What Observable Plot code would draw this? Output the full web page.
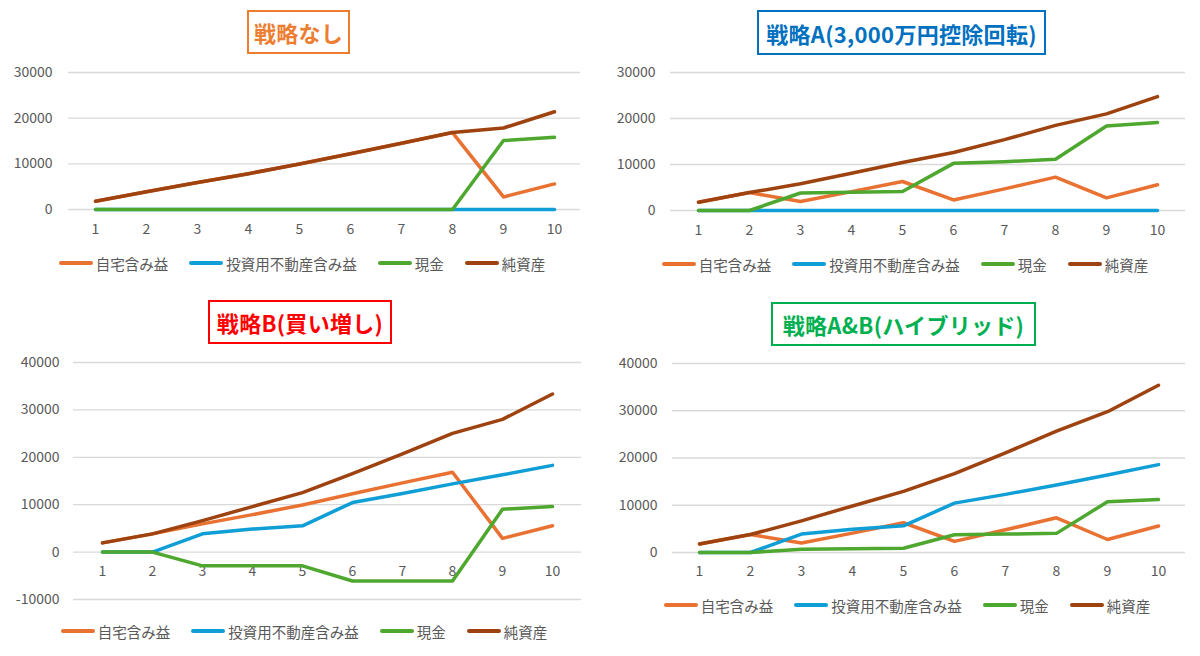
<!DOCTYPE html>
<html>
<head>
<meta charset="utf-8">
<script src="https://cdn.jsdelivr.net/npm/d3@7"></script>
<script src="https://cdn.jsdelivr.net/npm/@observablehq/plot@0.6"></script>
<style>
  html, body { margin: 0; padding: 0; background: #fff; }
  #root { position: relative; width: 1200px; height: 656px; overflow: hidden; background: #fff;
    font-family: "Noto Sans CJK JP", "Noto Sans", sans-serif; }
  .title { position: absolute; box-sizing: border-box; display: flex; align-items: center; justify-content: center;
    font-weight: bold; font-size: 22px; background: #fff; white-space: nowrap; letter-spacing: 0.3px; }
  .chart { position: absolute; }
  .legend { position: absolute; display: flex; justify-content: center; align-items: center; gap: 21px;
    font-size: 14.5px; color: #595959; white-space: nowrap; }
  .legend .item { display: flex; align-items: center; gap: 3px; }
  .legend .sw { width: 34px; height: 4px; border-radius: 2px; }
</style>
</head>
<body>
<div id="root"></div>
<script>
// ---- data ----
const years = [1, 2, 3, 4, 5, 6, 7, 8, 9, 10];
const seriesNames = ["自宅含み益", "投資用不動産含み益", "現金", "純資産"];

// 戦略なし
const noneHome   = [1800, 3900, 5900, 7850, 9950, 12200, 14500, 16850, 2750, 5600];
const noneInvest = [0, 0, 0, 0, 0, 0, 0, 0, 0, 0];
const noneCash   = [0, 0, 0, 0, 0, 0, 0, 0, 15100, 15800];
const noneNet    = [1800, 3900, 5900, 7850, 9950, 12200, 14500, 16850, 17850, 21400];

// 戦略A(3,000万円控除回転)
const aHome   = [1800, 3900, 1950, 4100, 6300, 2300, 4700, 7250, 2750, 5600];
const aInvest = [0, 0, 0, 0, 0, 0, 0, 0, 0, 0];
const aCash   = [0, 0, 3800, 3950, 4150, 10250, 10600, 11150, 18350, 19150];
const aNet    = [1800, 3900, 5800, 8100, 10450, 12600, 15400, 18500, 21000, 24750];

// 戦略B(買い増し)
const bHome   = [1950, 3850, 5950, 7900, 9950, 12300, 14600, 16850, 2900, 5550];
const bInvest = [0, 0, 3850, 4850, 5550, 10450, 12350, 14400, 16300, 18300];
const bCash   = [0, 0, -2900, -2900, -2900, -6100, -6100, -6100, 9050, 9600];
const bNet    = [1950, 3850, 6650, 9600, 12550, 16550, 20700, 25050, 28000, 33350];

// 戦略A&B(ハイブリッド)
const abHome   = [1800, 3800, 2000, 4100, 6300, 2350, 4800, 7350, 2750, 5600];
const abInvest = [0, 0, 3900, 4900, 5650, 10450, 12300, 14300, 16400, 18600];
const abCash   = [0, 0, 700, 780, 900, 3750, 3900, 4050, 10750, 11200];
const abNet    = [1800, 3800, 6700, 9850, 12950, 16700, 21100, 25700, 29800, 35400];

const ticks30 = [0, 10000, 20000, 30000];
const ticks40 = [-10000, 0, 10000, 20000, 30000, 40000];
const ticks40p = [0, 10000, 20000, 30000, 40000];

// ---- styles ----
const seriesColors = ["#E97132", "#0F9ED5", "#4EA72E", "#9E420F"];
const textColor = "#595959";
const font = '"Noto Sans CJK JP", "Noto Sans", sans-serif';

const root = document.getElementById("root");

function panel(cfg) {
  // title
  const t = document.createElement("div");
  t.className = "title";
  t.textContent = cfg.title;
  Object.assign(t.style, {
    left: cfg.tb[0] + "px", top: cfg.tb[1] + "px", width: cfg.tb[2] + "px", height: cfg.tb[3] + "px",
    color: cfg.tcolor, border: "2px solid " + cfg.tcolor
  });
  root.appendChild(t);

  const series = [cfg.home, cfg.invest, cfg.cash, cfg.net];
  const rows = series.map((vals, i) => years.map((yr, j) => ({year: yr, value: vals[j], series: seriesNames[i]})));

  const marks = [
    Plot.gridY({ticks: cfg.yTicks, stroke: "#D9D9D9", strokeOpacity: 1, strokeWidth: 1.3}),
    Plot.axisY({ticks: cfg.yTicks, tickSize: 0, tickPadding: cfg.yPad, tickFormat: d => String(d),
      fill: textColor, fontSize: 14, label: null}),
    Plot.text(years, {x: d => d, y: () => 0, dy: cfg.xdy, text: d => String(d), fill: textColor, fontSize: 14})
  ];
  rows.forEach((r, i) => {
    marks.push(Plot.line(r, {x: "year", y: "value", stroke: seriesColors[i], strokeWidth: 3.5,
      strokeLinejoin: "round", strokeLinecap: "round"}));
  });

  const svg = Plot.plot({
    width: cfg.w, height: cfg.h,
    marginTop: cfg.mt, marginBottom: cfg.mb, marginLeft: cfg.ml, marginRight: cfg.mr,
    x: {type: "point", domain: years, padding: 0.5, axis: null},
    y: {domain: cfg.yDomain},
    style: {fontFamily: font, background: "#fff", overflow: "visible"},
    marks
  });
  const wrap = document.createElement("div");
  wrap.className = "chart";
  wrap.style.left = cfg.x + "px";
  wrap.style.top = cfg.y + "px";
  wrap.appendChild(svg);
  root.appendChild(wrap);

  // legend
  const lg = document.createElement("div");
  lg.className = "legend";
  Object.assign(lg.style, {left: cfg.lg[0] + "px", top: cfg.lg[1] + "px", width: "600px", height: "20px"});
  seriesNames.forEach((n, i) => {
    const it = document.createElement("div");
    it.className = "item";
    const sw = document.createElement("span");
    sw.className = "sw";
    sw.style.background = seriesColors[i];
    const tx = document.createElement("span");
    tx.textContent = n;
    it.appendChild(sw); it.appendChild(tx);
    lg.appendChild(it);
  });
  root.appendChild(lg);
}

panel({title: "戦略なし", tcolor: "#ED7D31", tb: [247, 10, 103, 44],
  x: 0, y: 60, w: 600, h: 185, mt: 12, mb: 36, ml: 68, mr: 20, yDomain: [0, 30000], yTicks: ticks30, yPad: 16, xdy: 20,
  home: noneHome, invest: noneInvest, cash: noneCash, net: noneNet, lg: [2, 253]});

panel({title: "戦略A(3,000万円控除回転)", tcolor: "#0070C0", tb: [757, 10, 289, 45],
  x: 600, y: 60, w: 600, h: 185, mt: 12, mb: 35, ml: 70, mr: 15, yDomain: [0, 30000], yTicks: ticks30, yPad: 15, xdy: 20,
  home: aHome, invest: aInvest, cash: aCash, net: aNet, lg: [605, 254]});

panel({title: "戦略B(買い増し)", tcolor: "#FF0000", tb: [208, 300, 184, 44],
  x: 0, y: 350, w: 600, h: 265, mt: 12, mb: 16, ml: 73, mr: 19, yDomain: [-10000, 40000], yTicks: ticks40, yPad: 14, xdy: 19,
  home: bHome, invest: bInvest, cash: bCash, net: bNet, lg: [4, 621]});

panel({title: "戦略A&B(ハイブリッド)", tcolor: "#00B050", tb: [771, 302, 265, 44],
  x: 600, y: 350, w: 600, h: 230, mt: 13, mb: 28, ml: 72, mr: 15, yDomain: [0, 40000], yTicks: ticks40p, yPad: 15, xdy: 19,
  home: abHome, invest: abInvest, cash: abCash, net: abNet, lg: [607, 595]});
</script>
</body>
</html>
